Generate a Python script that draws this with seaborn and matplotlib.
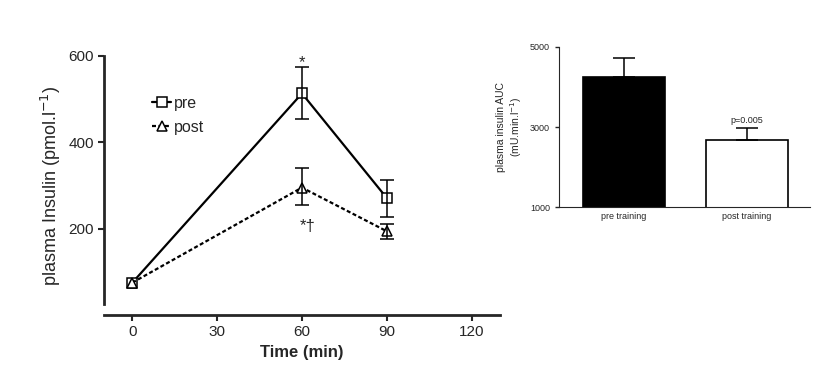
import numpy as np
import matplotlib
matplotlib.use("Agg")
import matplotlib.pyplot as plt
import seaborn as sns
import pandas as pd

sns.set_style("ticks")
plt.rcParams["font.family"] = ["Liberation Sans", "DejaVu Sans"]

# time course data
times = [0, 60, 90]
pre_mean = [75, 513, 271]
pre_err_lo = [0, 60, 45]
pre_err_hi = [0, 61, 41]
post_mean = [75, 295, 194]
post_err_lo = [0, 40, 18]
post_err_hi = [0, 45, 17]

# AUC data
groups = ["pre training", "post training"]
auc_mean = [4238, 2665]
auc_err = [472, 318]
bar_colors = ["black", "white"]

df = pd.DataFrame({"time": times * 2,
                   "insulin": pre_mean + post_mean,
                   "cond": ["pre"] * 3 + ["post"] * 3})

fig = plt.figure(figsize=(8.33, 3.8), dpi=100)
ax1 = fig.add_axes([0.125, 0.171, 0.475, 0.682])
ax2 = fig.add_axes([0.671, 0.4545, 0.301, 0.4225])

# left: line plot
sns.lineplot(data=df[df["cond"] == "pre"], x="time", y="insulin", ax=ax1,
             color="black", lw=1.6, marker="s", markersize=7.5,
             markerfacecolor="white", markeredgecolor="black", markeredgewidth=1.1,
             label="pre", errorbar=None)
sns.lineplot(data=df[df["cond"] == "post"], x="time", y="insulin", ax=ax1,
             color="black", lw=1.6, linestyle=(0, (1.8, 1.1)), marker="^", markersize=7.5,
             markerfacecolor="white", markeredgecolor="black", markeredgewidth=1.1,
             label="post", errorbar=None)
ax1.errorbar(times[1:], pre_mean[1:], yerr=[pre_err_lo[1:], pre_err_hi[1:]],
             fmt="none", ecolor="black", elinewidth=1.1, capsize=5, capthick=1.1)
ax1.errorbar(times[1:], post_mean[1:], yerr=[post_err_lo[1:], post_err_hi[1:]],
             fmt="none", ecolor="black", elinewidth=1.1, capsize=5, capthick=1.1)
ax1.text(60, 585, "*", ha="center", va="center", fontsize=12)
ax1.text(62, 205, "*†", ha="center", va="center", fontsize=12)

ax1.set_xlim(-10, 130)
ax1.set_ylim(0, 600)
ax1.set_xticks([0, 30, 60, 90, 120])
ax1.set_yticks([200, 400, 600])
ax1.set_xlabel("Time (min)", fontsize=12, fontweight="bold")
ax1.set_ylabel("plasma Insulin (pmol.l$^{-1}$)", fontsize=13)
ax1.tick_params(labelsize=11, width=1.5, length=4)
for s in ["left", "bottom"]:
    ax1.spines[s].set_linewidth(2)
ax1.spines["left"].set_bounds(25, 600)
sns.despine(ax=ax1)
ax1.legend(loc="upper left", bbox_to_anchor=(0.105, 0.87), frameon=False,
           fontsize=11.5, handlelength=1.2, handletextpad=0.2, labelspacing=0.55,
           borderaxespad=0)

# right: bar plot
sns.barplot(x=groups, y=auc_mean, ax=ax2, palette=bar_colors, hue=groups,
            legend=False, edgecolor="black", linewidth=1.2, width=0.67)
ax2.errorbar([0, 1], auc_mean, yerr=[[0, 0], auc_err], fmt="none",
             ecolor="black", elinewidth=1.1, capsize=8, capthick=1.1)
ax2.text(1, 3150, "p=0.005", ha="center", va="center", fontsize=6.5)
ax2.set_xlim(-0.53, 1.51)
ax2.set_ylim(1000, 5000)
ax2.set_yticks([1000, 3000, 5000])
ax2.set_ylabel("plasma insulin AUC\n(mU.min.l$^{-1}$)", fontsize=7.5)
ax2.tick_params(labelsize=6.5, length=3, width=1)
ax2.tick_params(axis="x", length=0)
sns.despine(ax=ax2)

fig.savefig("out.png", dpi=100)
